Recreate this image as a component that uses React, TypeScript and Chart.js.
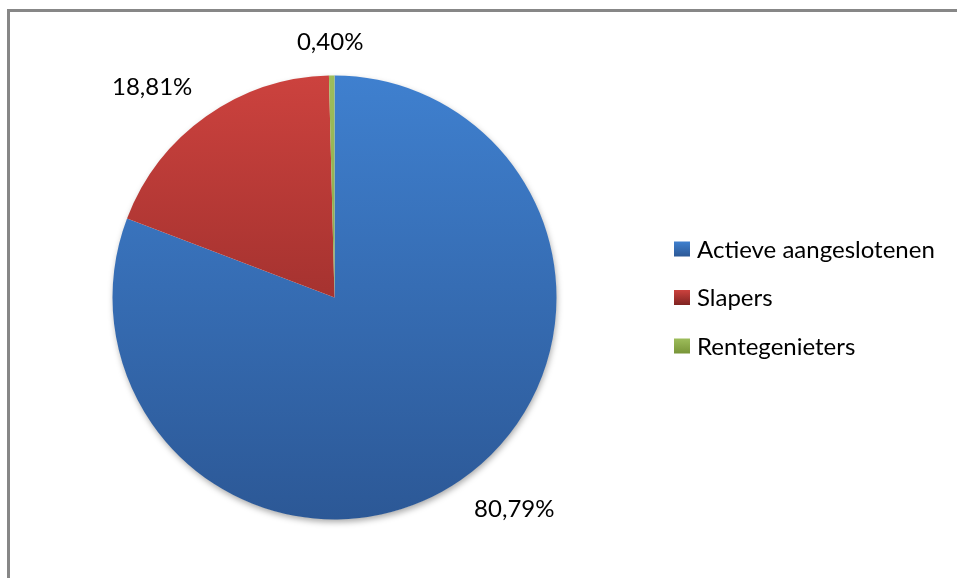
import React, { useEffect, useRef } from "react";
import { Chart, registerables } from "chart.js";
Chart.register(...registerables);

const categories = ["Actieve aangeslotenen", "Slapers", "Rentegenieters"];
const shares = [80.79, 18.81, 0.4];
const valueLabels = ["80,79%", "18,81%", "0,40%"];
const topColors = ["#3f80cf", "#cc423e", "#9dbd5b"];
const bottomColors = ["#2c5896", "#7f2321", "#789538"];

const FONT = "Lato, 'Open Sans', sans-serif";

export default function App() {
  const ref = useRef<HTMLCanvasElement | null>(null);

  useEffect(() => {
    if (!ref.current) return;

    const shadowPlugin = {
      id: "pieShadow",
      beforeDatasetsDraw(chart: any) {
        const arc = chart.getDatasetMeta(0).data[0];
        if (!arc) return;
        const ctx = chart.ctx;
        ctx.save();
        ctx.shadowColor = "rgba(0,0,0,0.35)";
        ctx.shadowBlur = 6;
        ctx.shadowOffsetX = 1;
        ctx.shadowOffsetY = 3;
        ctx.fillStyle = "#ffffff";
        ctx.beginPath();
        ctx.arc(arc.x, arc.y, arc.outerRadius - 0.5, 0, Math.PI * 2);
        ctx.fill();
        ctx.restore();
      },
    };

    const labelPlugin = {
      id: "pieLabels",
      afterDraw(chart: any) {
        const ctx = chart.ctx;
        const meta = chart.getDatasetMeta(0);
        ctx.save();
        ctx.font = `24px ${FONT}`;
        ctx.fillStyle = "#000000";
        ctx.textAlign = "center";
        ctx.textBaseline = "middle";
        meta.data.forEach((arc: any, i: number) => {
          const mid = (arc.startAngle + arc.endAngle) / 2;
          const dx = Math.cos(mid);
          const dy = Math.sin(mid);
          const d = arc.outerRadius + 24;
          const px = arc.x + d * dx;
          const py = arc.y + d * dy;
          const w = ctx.measureText(valueLabels[i]).width;
          const h = 19;
          const sx = Math.max(-1, Math.min(1, dx * 3));
          const sy = Math.max(-1, Math.min(1, dy * 3));
          ctx.fillText(valueLabels[i], px + (w / 2) * sx, py + (h / 2) * sy);
        });
        // legend
        const lx = 674;
        const rows = [249, 297.5, 346];
        ctx.textAlign = "left";
        ctx.font = `24px ${FONT}`;
        chart.data.labels.forEach((lab: string, i: number) => {
          const cy = rows[i];
          const g = ctx.createLinearGradient(0, cy - 7.5, 0, cy + 7.5);
          g.addColorStop(0, topColors[i]);
          g.addColorStop(1, bottomColors[i]);
          ctx.fillStyle = g;
          ctx.fillRect(lx, cy - 7.5, 16, 15);
          ctx.fillStyle = "#000000";
          ctx.fillText(lab, lx + 23, cy + 1);
        });
        ctx.restore();
      },
    };

    const chart = new Chart(ref.current, {
      type: "pie",
      data: {
        labels: categories,
        datasets: [
          {
            data: shares,
            borderWidth: 0,
            backgroundColor: (c: any) => {
              const chart = c.chart;
              const area = chart.chartArea;
              const i = c.dataIndex;
              if (!area) return topColors[i];
              const g = chart.ctx.createLinearGradient(0, area.top, 0, area.bottom);
              g.addColorStop(0, topColors[i]);
              g.addColorStop(1, bottomColors[i]);
              return g;
            },
          },
        ],
      },
      options: {
        responsive: false,
        animation: false,
        layout: { padding: { left: 112.5, right: 400.5, top: 75.3, bottom: 58.3 } },
        plugins: {
          legend: { display: false },
          tooltip: { enabled: false },
        },
      },
      plugins: [shadowPlugin, labelPlugin],
    } as any);

    return () => chart.destroy();
  }, []);

  return (
    <div style={{ position: "fixed", inset: 0, overflow: "hidden", background: "#ffffff" }}>
      <div
        style={{
          position: "absolute",
          left: 7,
          top: 9,
          width: 1000,
          height: 700,
          border: "3px solid #878787",
          boxSizing: "border-box",
        }}
      />
      <canvas
        ref={ref}
        width={957}
        height={578}
        style={{ position: "absolute", left: 0, top: 0, width: 957, height: 578 }}
      />
    </div>
  );
}
